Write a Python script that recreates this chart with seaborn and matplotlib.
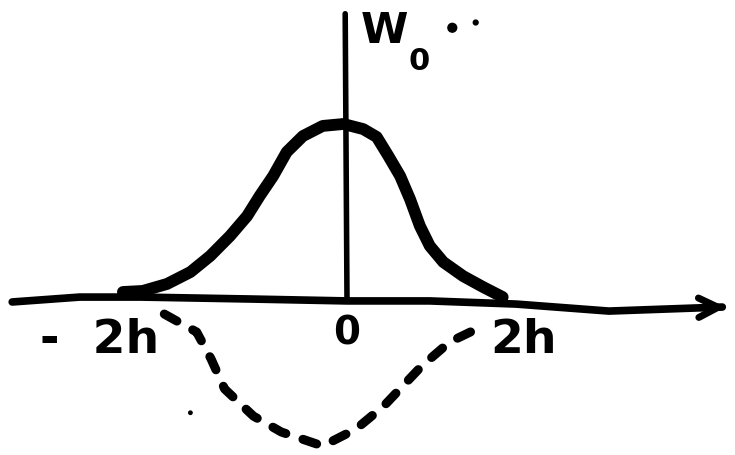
import matplotlib.pyplot as plt
import seaborn as sns
import pandas as pd
import numpy as np

# hand-sketch: smoothing kernel W (solid) and its derivative (dashed), x in units of h
kernel_x = [-2.49, -2.27, -2.00, -1.74, -1.52, -1.30, -1.11, -0.97, -0.82, -0.67, -0.49, -0.27, -0.04,
            0.18, 0.33, 0.46, 0.59, 0.70, 0.81, 0.92, 1.07, 1.29, 1.51, 1.73]
kernel_y = [0.04, 0.046, 0.086, 0.154, 0.246, 0.36, 0.474, 0.589, 0.703, 0.84, 0.931, 0.989, 1.0,
            0.971, 0.926, 0.817, 0.703, 0.571, 0.417, 0.303, 0.211, 0.131, 0.069, 0.011]

deriv_x = [-2.03, -1.67, -1.51, -1.36, -1.04, -0.73, -0.27, 0.10, 0.41, 0.62, 0.83, 1.14, 1.51]
deriv_y = [-0.086, -0.189, -0.343, -0.514, -0.669, -0.760, -0.840, -0.743, -0.611, -0.497, -0.383, -0.246, -0.154]

# the wobbly horizontal axis as drawn
axis_x = [-3.72, -2.97, -2.29, -1.08, 0.0, 0.92, 1.88, 2.91, 4.17]
axis_y = [-0.017, 0.011, 0.011, 0.0, -0.011, -0.011, -0.029, -0.069, -0.046]

vert_x = [-0.02, 0.0]
vert_y = [1.63, -0.01]

tick_labels = ['-  2h', '0', '2h']
tick_pos = [-3.41, 0.0, 1.96]

specks_x = [1.17, 1.43, -1.74]
specks_y = [1.55, 1.58, -0.65]

sns.set_style("white")
plt.rcParams['text.color'] = 'black'

fig, ax = plt.subplots(figsize=(7.35, 4.56), dpi=100)
fig.subplots_adjust(left=0, right=1, bottom=0, top=1)

sns.lineplot(x=axis_x, y=axis_y, sort=False, color='black', linewidth=5.5,
             solid_capstyle='round', ax=ax)
ax.annotate('', xy=(4.24, -0.046), xytext=(3.9, -0.05),
            arrowprops=dict(arrowstyle='->', color='black', lw=5, mutation_scale=35))
sns.lineplot(x=vert_x, y=vert_y, sort=False, color='black', linewidth=4,
             solid_capstyle='round', ax=ax)
sns.lineplot(x=kernel_x, y=kernel_y, sort=False, color='black', linewidth=8.5,
             solid_capstyle='round', solid_joinstyle='round', ax=ax)
sns.lineplot(x=deriv_x, y=deriv_y, sort=False, color='black', linewidth=6.5,
             dashes=False, ax=ax)
ax.lines[-1].set_linestyle((0, (1.6, 2.0)))
ax.lines[-1].set_dash_capstyle('round')
ax.scatter(specks_x, specks_y, s=[40, 12, 6], color='black')

# labels under the axis
ax.text(tick_pos[0], -0.23, tick_labels[0], fontsize=34, fontweight='heavy',
        color='black', ha='left', va='center')
ax.text(tick_pos[1], -0.19, tick_labels[1], fontsize=28, fontweight='heavy',
        color='black', ha='center', va='center')
ax.text(tick_pos[2], -0.23, tick_labels[2], fontsize=34, fontweight='heavy',
        color='black', ha='center', va='center')
ax.text(0.42, 1.54, 'W', fontsize=31, fontweight='heavy', color='black',
        ha='center', va='center')
ax.text(0.80, 1.36, '0', fontsize=22, fontweight='heavy', color='black',
        ha='center', va='center')

ax.set_xlim((0 - 347) / 90, (735 - 347) / 90)
ax.set_ylim(-(456 - 300) / 175, 300 / 175)
ax.axis('off')

plt.savefig('out.png', dpi=100)
